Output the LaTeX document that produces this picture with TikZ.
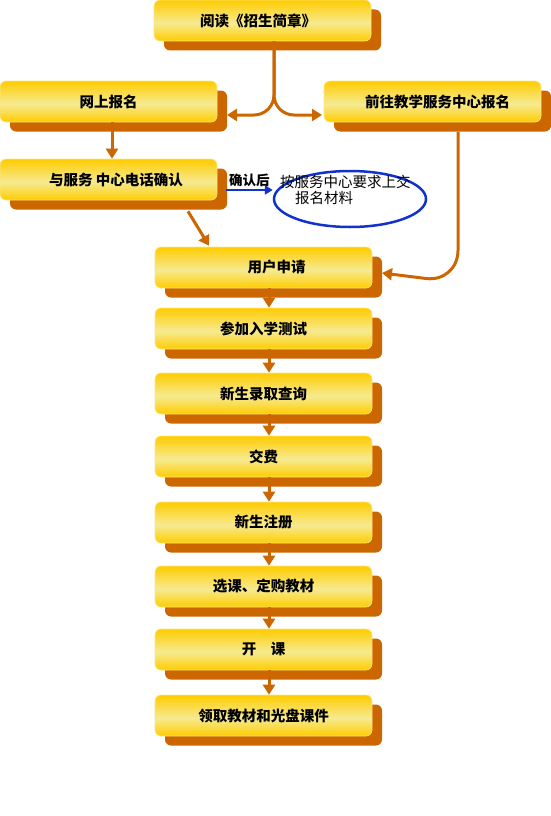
\documentclass[tikz,border=0pt]{standalone}
\usepackage{fontspec}
\setmainfont{Noto Sans CJK SC}
\usetikzlibrary{arrows.meta,shadows,shapes.geometric}
\definecolor{gold}{RGB}{255,204,0}
\definecolor{goldlight}{RGB}{246,234,145}
\definecolor{shadowc}{RGB}{204,102,0}
\definecolor{linec}{RGB}{204,102,0}
\definecolor{bluec}{RGB}{17,51,204}
\pgfdeclareverticalshading{boxshade}{100bp}{color(0bp)=(gold); color(25bp)=(gold); color(47bp)=(goldlight); color(75bp)=(gold); color(100bp)=(gold)}
\tikzset{
  stepbox/.style={rounded corners=6pt, minimum width=217pt, minimum height=41pt,
    inner sep=0pt, shade, shading=boxshade, draw=gold!50!white, line width=0.6pt,
    font=\bfseries\fontsize{14.5}{16}\selectfont,
    general shadow={fill=shadowc, shadow xshift=10pt, shadow yshift=-9.5pt}},
  arr/.style={draw=linec, line width=3pt, -{Triangle[length=10pt,width=12pt]}},
  barr/.style={draw=bluec, line width=2pt, -{Triangle[length=8pt,width=9pt]}},
}
\begin{document}
\begin{tikzpicture}[x=1pt,y=-1pt]
\useasboundingbox (0,0) rectangle (551,816);
\node[stepbox] (A) at (262.5,20.5) {阅读《招生简章》\hspace*{9pt}};
\node[stepbox] (B) at (108.5,101.5) {网上报名};
\node[stepbox] (C) at (432.5,101.5) {\hspace*{10pt}前往教学服务中心报名};
\node[stepbox] (D) at (108.5,179.5) {\hspace*{15pt}与服务 中心电话确认};
\node[stepbox] (E) at (263.5,267.5) {\hspace*{26pt}用户申请};
\node[stepbox] (F) at (263.5,328.5) {参加入学测试};
\node[stepbox] (G) at (263.5,393.5) {新生录取查询};
\node[stepbox] (H) at (263.5,456.5) {交费};
\node[stepbox] (I) at (263.5,522.5) {新生注册};
\node[stepbox] (J) at (263.5,586.5) {选课、定购教材};
\node[stepbox] (K) at (263.5,649.5) {开\hspace{1em}课};
\node[stepbox] (L) at (263.5,715.5) {领取教材和光盘课件};
\node[ellipse, draw=bluec, line width=2.5pt, minimum width=152pt, minimum height=56pt] (ell) at (350,199) {};
\node[anchor=west, align=left, inner sep=0pt, font=\fontsize{14.5}{16.5}\selectfont] (elltext) at (280,190) {按服务中心要求上交\\\hspace*{15pt}报名材料};
% fork from top box
\coordinate (forkL) at (227,115);
\coordinate (forkR) at (322,115);
\draw[arr, rounded corners=20pt] ([xshift=11.5pt]A.south) -- ([xshift=11.5pt]A.south |- forkL) -- (forkL);
\draw[arr, rounded corners=20pt] ([xshift=11.5pt]A.south) -- ([xshift=11.5pt]A.south |- forkR) -- (forkR);
% left column
\draw[arr] ([xshift=3.5pt]B.south) -- ([xshift=3.5pt]D.north);
\draw[arr] ([shift={(79.5pt,-11pt)}]D.south) -- ([shift={(-54.5pt,1pt)}]E.north);
% blue arrow
\coordinate (b1) at (226,190);
\draw[barr] (b1) -- (b1 -| ell.west) node[midway, above=1pt, font=\bfseries\fontsize{13.5}{15}\selectfont, inner sep=1pt] {确认后};
% right branch
\coordinate (rtip) at (382,273);
\draw[arr, rounded corners=32pt] ([shift={(25.5pt,-9.5pt)}]C.south) -- ([shift={(25.5pt,-9.5pt)}]C.south |- rtip) -- (rtip);
% main column
\foreach \a/\b in {E/F,F/G,G/H,H/I,I/J,J/K,K/L}{
  \draw[arr] ([xshift=5.5pt]\a.south) -- ([xshift=5.5pt]\b.north);
}
\end{tikzpicture}
\end{document}
